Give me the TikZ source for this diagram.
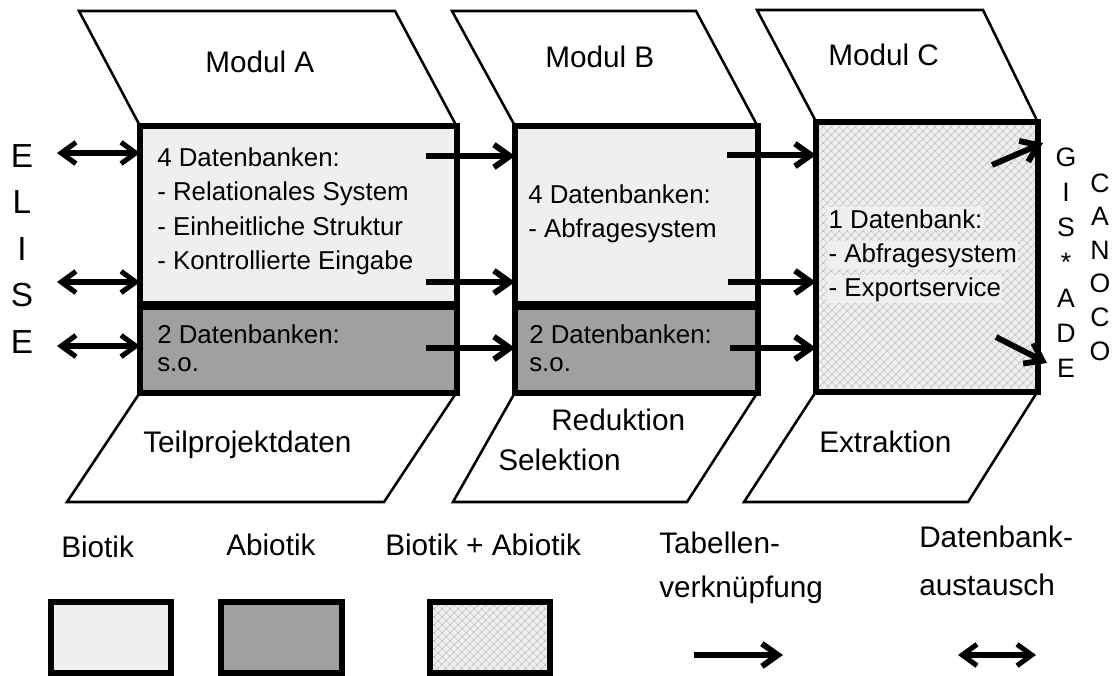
\documentclass[tikz,border=0pt]{standalone}
\usepackage{fontspec}
\setmainfont{Liberation Sans}
\usetikzlibrary{arrows.meta,patterns.meta}

\definecolor{biotik}{HTML}{EFEFEF}
\definecolor{abiotik}{HTML}{A0A0A0}
\definecolor{hatchbg}{HTML}{EEEEEE}
\definecolor{hatchln}{HTML}{B8B8B8}

\tikzset{
  frame/.style={draw=black, line width=1.9pt, fill=white, line join=miter},
  dbbox/.style={rectangle, draw=black, line width=4.5pt, inner sep=0pt, outer sep=0pt},
  light/.style={dbbox, fill=biotik},
  dark/.style={dbbox, fill=abiotik},
  mixed/.style={dbbox, preaction={fill=hatchbg},
    pattern={Hatch[angle=45,distance=4pt,line width=0.4pt]}, pattern color=hatchln},
  body/.style={font=\fontsize{19.4pt}{23pt}\selectfont, inner sep=0pt, anchor=base west},
  shaded/.style={body, fill=biotik, inner xsep=1pt, inner ysep=1.5pt},
  title/.style={font=\fontsize{22.3pt}{26pt}\selectfont, inner sep=0pt, anchor=base west},
  letter/.style={font=\fontsize{25pt}{29pt}\selectfont, inner sep=0pt, anchor=base},
  smallletter/.style={font=\fontsize{20pt}{24pt}\selectfont, inner sep=0pt, anchor=base},
  link/.style={line width=4.4pt, -{Straight Barb[length=12pt,width=17pt]}},
  swap/.style={line width=3.8pt,
    {Straight Barb[length=11pt,width=16pt]}-{Straight Barb[length=11pt,width=16pt]}},
}

\begin{document}
\begin{tikzpicture}[x=0.75pt,y=-0.75pt]
\useasboundingbox (0,0) rectangle (1117,675);
\fill[white] (0,0) rectangle (1117,675);

% module headers
\draw[frame] (79,11) -- (395,11) -- (456.5,126) -- (140,126) -- cycle;
\draw[frame] (452,11) -- (696,11) -- (757.5,126) -- (515,126) -- cycle;
\draw[frame] (757,10) -- (983,10) -- (1037.5,121.5) -- (816,121.5) -- cycle;

% processing steps below the modules
\draw[frame] (140,392.5) -- (456.5,392.5) -- (384,502) -- (67,502) -- cycle;
\draw[frame] (515,392.5) -- (757.5,392.5) -- (687,502) -- (453,502) -- cycle;
\draw[frame] (816,391.5) -- (1037.5,391.5) -- (968,502) -- (744,502) -- cycle;

% database blocks
\node[light, minimum width=316.5*0.75pt, minimum height=178*0.75pt] (Alight) at (298.25,215) {};
\node[dark,  minimum width=316.5*0.75pt, minimum height=85.5*0.75pt] (Adark) at (298.25,349.75) {};
\node[light, minimum width=242.5*0.75pt, minimum height=178*0.75pt] (Blight) at (636.25,215) {};
\node[dark,  minimum width=242.5*0.75pt, minimum height=85.5*0.75pt] (Bdark) at (636.25,349.75) {};
\node[mixed, minimum width=221.5*0.75pt, minimum height=270*0.75pt] (Cbox) at (926.75,256.5) {};

% headings
\node[title] (modA) at (205,72) {Modul A};
\node[title] (modB) at (545,67) {Modul B};
\node[title] (modC) at (828,65) {Modul C};

% block texts
\node[body] (a1) at (157,166) {4 Datenbanken:};
\node[body] (a2) at (157,200) {- Relationales System};
\node[body] (a3) at (157,235) {- Einheitliche Struktur};
\node[body] (a4) at (157,269) {- Kontrollierte Eingabe};
\node[body] (a5) at (157,343) {2 Datenbanken:};
\node[body] (a6) at (157,371) {s.o.};
\node[body] (b1) at (528,203) {4 Datenbanken:};
\node[body] (b2) at (528,237) {- Abfragesystem};
\node[body] (b3) at (529,343) {2 Datenbanken:};
\node[body] (b4) at (529,371) {s.o.};
\node[shaded] (c1) at (827,228) {1 Datenbank:};
\node[shaded] (c2) at (827,262) {- Abfragesystem};
\node[shaded] (c3) at (827,296) {- Exportservice};

% step labels
\node[title] (stepA) at (143,452) {Teilprojektdaten};
\node[title] (stepB1) at (551,430) {Reduktion};
\node[title] (stepB2) at (498,470) {Selektion};
\node[title] (stepC) at (819,452) {Extraktion};

% external systems
\foreach \ch [count=\i] in {E,L,I,S,E}
  \node[letter] (elise\i) at (22,167+46.6*\i-46.6) {\ch};
\foreach \ch [count=\i] in {G,I,S,*,A,D,E}
  \node[smallletter] (gis\i) at (1066,166+35.3*\i-35.3) {\ch};
\foreach \ch [count=\i] in {C,A,N,O,C,O}
  \node[smallletter] (canoco\i) at (1100,192+33.6*\i-33.6) {\ch};

% database exchange with ELISE
\coordinate (e1) at (57,153);
\coordinate (e2) at (57,282);
\coordinate (e3) at (57,346);
\draw[swap] (e1) -- (Alight.west |- e1);
\draw[swap] (e2) -- (Alight.west |- e2);
\draw[swap] (e3) -- (Adark.west |- e3);

% table links A -> B -> C
\coordinate (ab1) at (426,156);
\coordinate (ab2) at (426,282);
\coordinate (ab3) at (426,348);
\draw[link] (ab1) -- (Blight.west |- ab1);
\draw[link] (ab2) -- (Blight.west |- ab2);
\draw[link] (ab3) -- (Bdark.west |- ab3);
\coordinate (bc1) at (727,155);
\coordinate (bc2) at (728,282);
\coordinate (bc3) at (730,348);
\draw[link] (bc1) -- (Cbox.west |- bc1);
\draw[link] (bc2) -- (Cbox.west |- bc2);
\draw[link] (bc3) -- (Cbox.west |- bc3);

% export to GIS*ADE / CANOCO
\coordinate (x1) at (992,165);
\coordinate (x1e) at (1043,143);
\coordinate (x2) at (996,337);
\coordinate (x2e) at (1047,363);
\draw[link] (x1) -- (x1e);
\draw[link] (x2) -- (x2e);

% legend
\node[title] (lgBio) at (61,557) {Biotik};
\node[title] (lgAbio) at (226,555) {Abiotik};
\node[title] (lgMix) at (385,555) {Biotik + Abiotik};
\node[title] (lgLink1) at (659,553) {Tabellen-};
\node[title] (lgLink2) at (659,597) {verknüpfung};
\node[title] (lgSwap1) at (919,547) {Datenbank-};
\node[title] (lgSwap2) at (919,595) {austausch};

\node[light, minimum width=120*0.75pt, minimum height=71*0.75pt] (boxBio) at (111,637.5) {};
\node[dark,  minimum width=121*0.75pt, minimum height=71*0.75pt] (boxAbio) at (281.5,637.5) {};
\node[mixed, minimum width=119.5*0.75pt, minimum height=71*0.75pt] (boxMix) at (489.75,637.5) {};

\coordinate (l1) at (694,655);
\coordinate (l1e) at (783,655);
\draw[link] (l1) -- (l1e);
\coordinate (l2) at (958,655);
\coordinate (l2e) at (1036,655);
\draw[swap] (l2) -- (l2e);
\end{tikzpicture}
\end{document}
